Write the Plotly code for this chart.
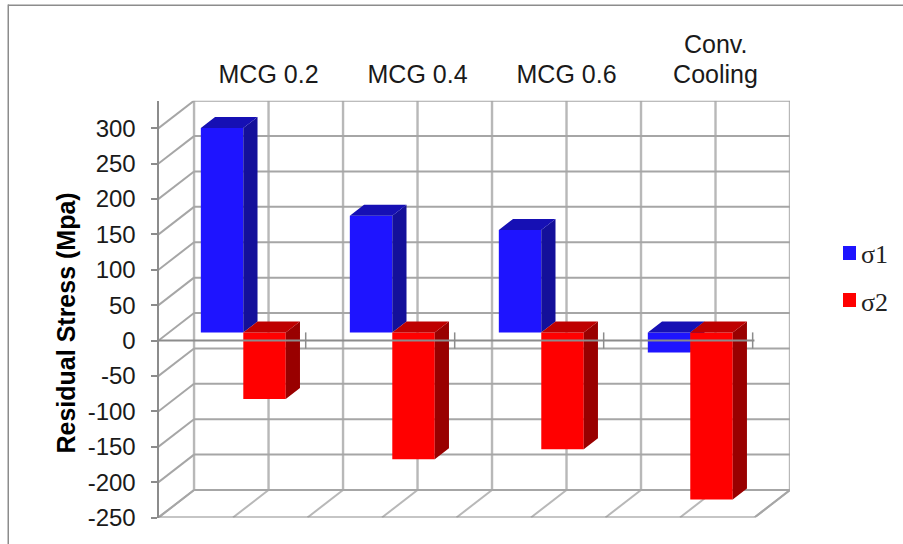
import plotly.graph_objects as go

# Chart data
categories = ["MCG 0.2", "MCG 0.4", "MCG 0.6", "Cooling"]
category_caption = "Conv."   # first line of the last category label
sigma1 = [289, 165, 145, -28]
sigma2 = [-94, -179, -165, -236]
series_names = ["σ1", "σ2"]
y_ticks = [300, 250, 200, 150, 100, 50, 0, -50, -100, -150, -200, -250]

# Oblique projection of the 3D box, expressed in axis units
WALL_X = 0.2386     # depth shift of the back wall along x
WALL_Y = 38.84      # depth shift of the back wall along y
NEAR = 0.29         # bar front face, as a fraction of the depth
FAR = 0.69          # bar rear face, as a fraction of the depth
BAR_W = 0.285
Y_MIN, Y_MAX = -250, 300
X_END = 4 + WALL_X
W, H = 903, 544

BLUE = dict(front="#1E14FF", side="#14109A", top="#1610B4")
RED = dict(front="#FF0000", side="#990000", top="#BE0000")
GRID_H = "#A6A6A6"
GRID_V = "#B8B8B8"
AXIS = "#8C8C8C"
TEXT = "#1A1A1A"


def seg(x0, y0, x1, y1, color=GRID_H, width=2, layer="below"):
    return dict(type="line", xref="x", yref="y", x0=x0, y0=y0, x1=x1, y1=y1,
                line=dict(color=color, width=width), layer=layer)


def box_faces(values, offset):
    """Top and side polygons of a series, each separated by None."""
    side_x, side_y, top_x, top_y = [], [], [], []
    sx0, sy0 = NEAR * WALL_X, NEAR * WALL_Y
    sx1, sy1 = FAR * WALL_X, FAR * WALL_Y
    for i, v in enumerate(values):
        left = i + 0.5 + offset + sx0
        right = left + BAR_W
        hi, lo = max(v, 0), min(v, 0)
        dx = sx1 - sx0
        side_x += [right, right + dx, right + dx, right, right, None]
        side_y += [hi + sy0, hi + sy1, lo + sy1, lo + sy0, hi + sy0, None]
        top_x += [left, left + dx, right + dx, right, left, None]
        top_y += [hi + sy0, hi + sy1, hi + sy1, hi + sy0, hi + sy0, None]
    return side_x, side_y, top_x, top_y


def add_series(fig, values, name, colors, offset, xa, ya):
    centers = [i + 0.5 + NEAR * WALL_X for i in range(len(values))]
    fig.add_trace(go.Bar(x=centers, y=values, base=NEAR * WALL_Y, width=BAR_W, offset=offset,
                         name=name, marker=dict(color=colors["front"], line=dict(width=0)),
                         xaxis=xa, yaxis=ya, showlegend=False))
    side_x, side_y, top_x, top_y = box_faces(values, offset)
    for px, py, c in ((side_x, side_y, colors["side"]), (top_x, top_y, colors["top"])):
        fig.add_trace(go.Scatter(x=px, y=py, mode="lines", fill="toself", fillcolor=c,
                                 line=dict(width=0), hoverinfo="skip", showlegend=False,
                                 xaxis=xa, yaxis=ya))


fig = go.Figure()
add_series(fig, sigma1, series_names[0], BLUE, -BAR_W, "x", "y")
add_series(fig, sigma2, series_names[1], RED, 0, "x2", "y2")

shapes = []
# Back wall verticals and floor depth lines
for k in range(9):
    x = k * 0.5
    shapes.append(seg(x + WALL_X, Y_MIN + WALL_Y, x + WALL_X, Y_MAX + WALL_Y, color=GRID_V, width=2.4))
    shapes.append(seg(x, Y_MIN, x + WALL_X, Y_MIN + WALL_Y, color=GRID_V))
# Back wall and side wall gridlines
for t in y_ticks:
    shapes.append(seg(WALL_X, t + WALL_Y, X_END, t + WALL_Y))
    shapes.append(seg(0, t, WALL_X, t + WALL_Y))
# Floor edges
shapes.append(seg(0, Y_MIN, 4, Y_MIN, color=AXIS))
shapes.append(seg(4, Y_MIN, X_END, Y_MIN + WALL_Y))
# Category axis at zero, drawn over the bars
shapes.append(seg(0, 0, 4, 0, color=AXIS, layer="above"))
for k in range(1, 5):
    shapes.append(seg(k - 0.012, 11.5, k - 0.012, -11.5, color=AXIS, width=1.5, layer="above"))


def paper_rect(x0, y0, x1, y1, color):
    return dict(type="rect", xref="paper", yref="paper", x0=x0 / W, x1=x1 / W,
                y0=1 - y0 / H, y1=1 - y1 / H, fillcolor=color, line=dict(width=0))


# Outer chart frame: top and left edges
shapes.append(paper_rect(8, 4.5, W, 6, "#8C8C8C"))
shapes.append(paper_rect(7.5, 4.5, 9, H, "#8C8C8C"))
# Key swatches
shapes.append(paper_rect(843, 246, 856, 260, BLUE["front"]))
shapes.append(paper_rect(843, 293, 856, 307, RED["front"]))

annotations = [
    dict(text="<b>Residual Stress (Mpa)</b>", textangle=-90, xref="paper", yref="paper",
         x=65.5 / W, y=1 - 323 / H, xanchor="center", yanchor="middle", showarrow=False,
         font=dict(family="Liberation Sans", size=25, color="black")),
    dict(text=category_caption, xref="x", yref="paper", x=3.5 + WALL_X, y=1 - 44 / H,
         xanchor="center", yanchor="middle", showarrow=False,
         font=dict(family="Liberation Sans", size=25, color=TEXT)),
]
for name, ypx in zip(series_names, (254, 302)):
    annotations.append(dict(text=name, xref="paper", yref="paper", x=859 / W, y=1 - ypx / H,
                            xanchor="left", showarrow=False,
                            font=dict(family="Liberation Serif", size=26, color="#222222")))

x_dom = [158.5 / W, 790 / W]
y_dom = [1 - 517.5 / H, 1 - 100.7 / H]
x_range = [0, X_END]
y_range = [Y_MIN, Y_MAX + WALL_Y]

fig.update_layout(
    width=W, height=H, autosize=False,
    margin=dict(l=0, r=0, t=0, b=0, autoexpand=False),
    paper_bgcolor="white", plot_bgcolor="white",
    barmode="overlay", showlegend=False,
    font=dict(family="Liberation Sans", size=24, color=TEXT),
    shapes=shapes, annotations=annotations,
    xaxis=dict(domain=x_dom, range=x_range, side="top", showgrid=False, zeroline=False,
               showline=False, ticks="", tickmode="array",
               tickvals=[i + 0.5 + WALL_X for i in range(4)], ticktext=categories,
               tickfont=dict(size=25, color=TEXT), ticklabelstandoff=12),
    yaxis=dict(domain=y_dom, range=y_range, showgrid=False, zeroline=False,
               showline=True, linecolor=AXIS, linewidth=2, ticks="outside", ticklen=6,
               tickwidth=1.5, tickcolor=AXIS, tickmode="array", tickvals=y_ticks,
               ticktext=[str(t) for t in y_ticks], ticklabelstandoff=10,
               tickfont=dict(size=24, color=TEXT)),
    xaxis2=dict(domain=x_dom, range=x_range, overlaying="x", visible=False),
    yaxis2=dict(domain=y_dom, range=y_range, overlaying="y", visible=False),
)

fig.write_html("out.html")
